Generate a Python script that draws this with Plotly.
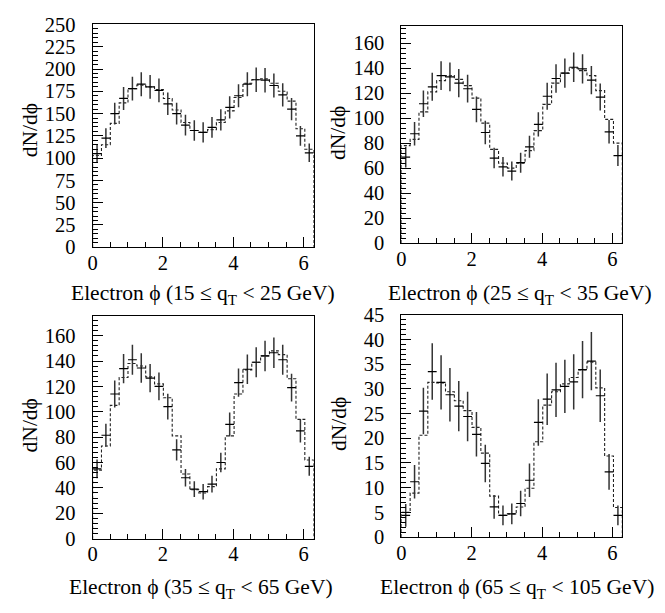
import math
import plotly.graph_objects as go

# ---------------- data ----------------
N_BINS = 25
PHI_MAX = 2 * math.pi

titles = [
    "Electron ϕ (15 ≤ q<sub>T</sub> < 25 GeV)",
    "Electron ϕ (25 ≤ q<sub>T</sub> < 35 GeV)",
    "Electron ϕ (35 ≤ q<sub>T</sub> < 65 GeV)",
    "Electron ϕ (65 ≤ q<sub>T</sub> < 105 GeV)",
]

data1 = [105, 122.5, 150, 167, 178, 183, 180, 176, 161, 150, 137, 131, 129, 134.5, 143,
         157, 170, 183, 188, 187.5, 181.5, 171, 155, 125, 106]
err1 = [10.2, 11.1, 12.2, 12.9, 13.3, 13.5, 13.4, 13.3, 12.7, 12.2, 11.7, 11.4, 11.4, 11.6, 12.0,
        12.5, 13.0, 13.5, 13.7, 13.7, 13.5, 13.1, 12.4, 11.2, 10.3]
model1 = [103, 115, 139, 162, 178, 182, 180, 177, 167, 154, 140, 131, 129, 132, 140,
          153, 168, 184, 188, 189, 184, 175, 164, 133, 110]

data2 = [68.7, 87.5, 111.5, 125, 134, 133, 128, 123.5, 107, 88.5, 68, 61, 57.6, 64.3, 77,
         95, 117.5, 131.7, 136, 140.7, 139.4, 130.4, 116.8, 89, 70]
err2 = [8.3, 9.4, 10.6, 11.2, 11.6, 11.5, 11.3, 11.1, 10.3, 9.4, 8.2, 7.8, 7.6, 8.0, 8.8,
        9.7, 10.8, 11.5, 11.7, 11.9, 11.8, 11.4, 10.8, 9.4, 8.4]
model2 = [78, 83, 105, 121, 130, 134, 131, 126, 116, 96, 75, 64, 60, 64, 74,
          90, 111, 128, 136, 140, 138, 134, 122, 99, 80]

data3 = [55, 81.5, 114, 134, 141, 134.5, 126.5, 120, 104, 70, 48, 39, 37, 43, 60,
         90, 123, 133.5, 139, 144, 146.5, 141, 119, 85, 57]
err3 = [7.4, 9.0, 10.7, 11.6, 11.9, 11.6, 11.2, 11.0, 10.2, 8.4, 6.9, 6.2, 6.1, 6.6, 7.7,
        9.5, 11.1, 11.6, 11.8, 12.0, 12.1, 11.9, 10.9, 9.2, 7.5]
model3 = [54, 73, 105, 127, 138, 136, 127.5, 122, 111, 81, 51, 38.5, 36, 41, 55,
          81, 114, 133, 139, 144, 148, 145, 126, 94, 62]

data4 = [4.4, 11.2, 25.5, 33.5, 31.3, 28.8, 26.5, 24.4, 20.8, 14.9, 6.1, 4.4, 4.7, 6.8, 11.5,
         23.2, 27.9, 29.8, 30.5, 31.4, 33.9, 35.6, 28.6, 13.2, 4.4]
err4 = [2.3, 3.4, 4.7, 5.7, 5.5, 5.4, 5.1, 5.0, 4.5, 3.8, 2.4, 2.0, 2.1, 2.6, 3.4,
        4.7, 5.2, 5.5, 5.4, 5.6, 5.8, 5.9, 5.3, 3.6, 2.0]
model4 = [5, 8.9, 20.6, 31.3, 31.2, 29.4, 27.6, 25.6, 22.2, 17, 8.3, 4.4, 4.7, 6.1, 9.9,
          19.3, 26.7, 29.4, 31, 32.3, 33.8, 35.4, 30.2, 16.4, 6]

y_max = [250, 173.6, 175.2, 45]
y_dtick = [25, 20, 20, 5]
y_minor = [5, 4, 4, 1]

panels = [(data1, err1, model1), (data2, err2, model2), (data3, err3, model3), (data4, err4, model4)]

# ---------------- layout geometry (pixels) ----------------
W, H = 665, 613
boxes = [  # x0, x1, ytop, ybottom
    (88.3, 311, 14, 245),
    (399.3, 622, 15.7, 240.7),
    (88.3, 311, 316.7, 547.3),
    (399.3, 622, 315, 545.7),
]
xtitle_pos = [(200, 294), (519, 294), (197, 599), (516, 599)]
ytitle_pos = [(25, 124), (336, 126), (25, 430), (336, 428)]

FONT = "Liberation Serif, Times New Roman, serif"
TICK_SIZE = 20.5
TITLE_SIZE = 21.5
bw = PHI_MAX / N_BINS
centers = [(i + 0.5) * bw for i in range(N_BINS)]
edges = [i * bw for i in range(N_BINS + 1)]

fig = go.Figure()
layout = dict(
    width=W, height=H, margin=dict(l=0, r=0, t=0, b=0),
    paper_bgcolor="white", plot_bgcolor="white", showlegend=False,
    font=dict(family=FONT, size=TICK_SIZE, color="black"),
)
annotations = []

for k, ((d, e, m), (x0, x1, yt, yb)) in enumerate(zip(panels, boxes)):
    xa = "x" if k == 0 else f"x{k+1}"
    ya = "y" if k == 0 else f"y{k+1}"
    # model prediction: dashed step histogram
    hx = [0] + edges[:-1] + [edges[-1], edges[-1]]
    hy = [0] + list(m) + [m[-1], 0]
    fig.add_trace(go.Scatter(
        x=hx, y=hy, mode="lines", line=dict(color="#222", width=1.1, dash="3px,2px", shape="hv"),
        xaxis=xa, yaxis=ya, hoverinfo="skip", cliponaxis=False))
    # data: crosses (bin width x statistical error)
    fig.add_trace(go.Scatter(
        x=centers, y=d, mode="markers", marker=dict(size=0.1, color="black"),
        error_x=dict(type="constant", value=bw / 2, width=0, thickness=1.2, color="black"),
        error_y=dict(type="data", array=e, width=0, thickness=1.5, color="#333"),
        xaxis=xa, yaxis=ya))

    xkey = "xaxis" if k == 0 else f"xaxis{k+1}"
    ykey = "yaxis" if k == 0 else f"yaxis{k+1}"
    layout[xkey] = dict(
        domain=[x0 / W, x1 / W], anchor=ya, range=[0, PHI_MAX],
        showline=True, linecolor="black", linewidth=1, mirror=True,
        showgrid=False, zeroline=False,
        ticks="inside", ticklen=10, tickcolor="black", tickwidth=1,
        tickmode="linear", tick0=0, dtick=2, ticklabelstandoff=-3,
        minor=dict(ticks="inside", ticklen=5, dtick=0.5, tick0=0, tickcolor="black", tickwidth=1),
        tickfont=dict(family=FONT, size=TICK_SIZE, color="black"),
    )
    layout[ykey] = dict(
        domain=[1 - yb / H, 1 - yt / H], anchor=xa, range=[0, y_max[k]],
        showline=True, linecolor="black", linewidth=1, mirror=True,
        showgrid=False, zeroline=False,
        ticks="inside", ticklen=10, tickcolor="black", tickwidth=1,
        tickmode="linear", tick0=0, dtick=y_dtick[k], ticklabelstandoff=12,
        minor=dict(ticks="inside", ticklen=5, dtick=y_minor[k], tick0=0, tickcolor="black", tickwidth=1),
        tickfont=dict(family=FONT, size=TICK_SIZE, color="black"),
    )
    tx, ty = xtitle_pos[k]
    annotations.append(dict(
        text=titles[k], x=tx / W, y=1 - ty / H, xref="paper", yref="paper",
        showarrow=False, xanchor="center", yanchor="middle",
        font=dict(family=FONT, size=TITLE_SIZE, color="black")))
    ux, uy = ytitle_pos[k]
    annotations.append(dict(
        text="dN/dϕ", x=ux / W, y=1 - uy / H, xref="paper", yref="paper",
        showarrow=False, xanchor="center", yanchor="middle", textangle=-90,
        font=dict(family=FONT, size=TITLE_SIZE, color="black")))

layout["annotations"] = annotations
fig.update_layout(**layout)
fig.write_html("out.html", config={"displayModeBar": False},
               post_script="document.documentElement.style.margin='0';document.body.style.margin='0';document.body.style.overflow='hidden';")
